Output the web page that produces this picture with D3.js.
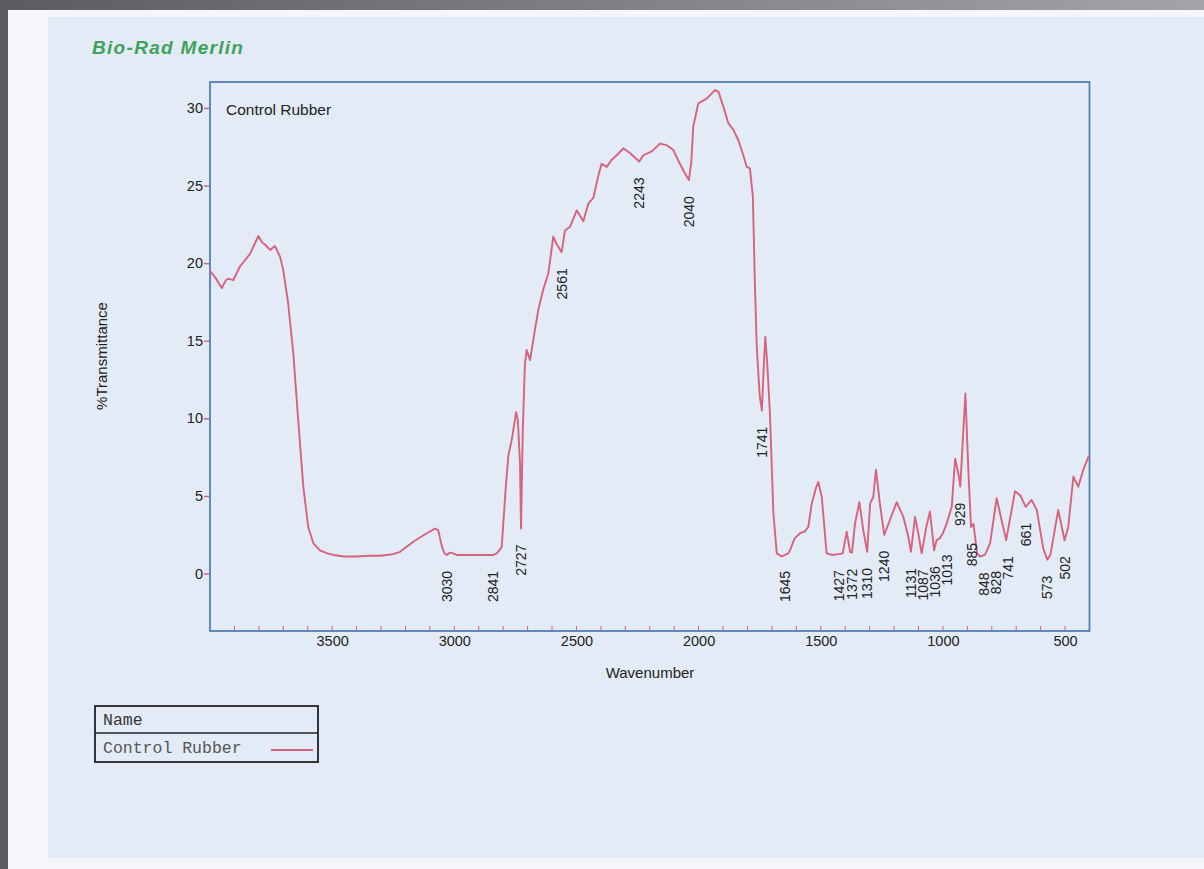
<!DOCTYPE html>
<html>
<head>
<meta charset="utf-8">
<script src="https://cdn.jsdelivr.net/npm/d3@7"></script>
<style>
html,body{margin:0;padding:0;background:#7a7a7e;}
svg{display:block;}
</style>
</head>
<body>
<svg id="chart" width="1204" height="869"></svg>
<script>
// ---- data ----
const title = "Bio-Rad Merlin";
const seriesName = "Control Rubber";
const xLabel = "Wavenumber";
const yLabel = "%Transmittance";
const xTicks = [3500, 3000, 2500, 2000, 1500, 1000, 500];
const yTicks = [0, 5, 10, 15, 20, 25, 30];
const wavenumbers = [4000,3975,3952,3935,3925,3905,3877,3836,3802,3785,3775,3754,3734,3713,3700,3680,3659,3639,3618,3598,3577,3550,3520,3495,3450,3400,3350,3300,3250,3222,3168,3113,3079,3066,3050,3040,3030,3018,3005,2990,2950,2900,2860,2841,2826,2806,2792,2779,2765,2747,2740,2731,2727,2720,2711,2704,2690,2670,2656,2636,2615,2595,2580,2561,2547,2526,2499,2472,2451,2431,2411,2397,2376,2356,2335,2308,2281,2243,2226,2192,2158,2131,2104,2083,2060,2040,2030,2022,2001,1967,1933,1919,1899,1878,1858,1837,1817,1803,1790,1778,1770,1762,1750,1741,1733,1727,1719,1708,1694,1680,1660,1645,1633,1626,1607,1585,1566,1551,1537,1520,1510,1496,1476,1455,1427,1410,1394,1380,1372,1360,1342,1326,1310,1298,1285,1274,1258,1240,1217,1189,1162,1142,1131,1114,1101,1087,1068,1053,1036,1026,1013,1000,985,964,950,937,929,908,896,885,875,860,848,828,807,780,760,741,705,684,661,637,616,589,573,560,528,502,487,466,446,425,405,400];
const transmittance = [19.5,19.0,18.4,18.9,19.0,18.9,19.8,20.6,21.75,21.3,21.2,20.85,21.1,20.4,19.55,17.4,14.2,9.9,5.6,3.0,1.95,1.5,1.3,1.2,1.1,1.1,1.15,1.15,1.25,1.4,2.05,2.6,2.9,2.8,1.7,1.3,1.2,1.35,1.3,1.2,1.2,1.2,1.2,1.2,1.3,1.7,4.95,7.6,8.6,10.4,9.9,7.1,2.9,9.0,13.5,14.4,13.75,15.7,17.0,18.3,19.35,21.7,21.2,20.7,22.1,22.35,23.4,22.7,23.85,24.2,25.6,26.4,26.2,26.65,26.95,27.4,27.1,26.55,26.95,27.2,27.7,27.6,27.3,26.6,25.9,25.35,26.5,28.8,30.3,30.6,31.15,31.05,30.1,29.0,28.6,27.9,26.95,26.2,26.1,24.3,18.9,14.6,11.5,10.5,13.5,15.25,13.5,10.3,3.9,1.3,1.1,1.2,1.3,1.5,2.27,2.6,2.7,3.0,4.5,5.5,5.9,4.95,1.3,1.2,1.25,1.3,2.7,1.4,1.35,3.2,4.6,2.8,1.4,4.5,4.95,6.7,4.5,2.5,3.45,4.6,3.65,2.4,1.4,3.65,2.6,1.3,3.0,4.0,1.5,2.15,2.27,2.6,3.2,4.3,7.4,6.45,5.6,11.6,6.7,3.0,3.2,1.3,1.1,1.2,1.95,4.85,3.45,2.15,5.3,5.05,4.3,4.75,4.1,1.6,0.9,1.2,4.1,2.15,3.0,6.25,5.6,6.7,7.5,7.6];
const peakLabels = [3030,2841,2727,2561,2243,2040,1741,1645,1427,1372,1310,1240,1131,1087,1036,1013,929,885,848,828,741,661,573,502];

// ---- layout ----
const svg = d3.select("#chart");
const W = 1204, H = 869;
const plot = {left: 210, right: 1089.5, top: 82, bottom: 631};
const curveColor = "#d8627c";
const frameColor = "#4b78b2";
const textColor = "#222";
const sans = "Liberation Sans, Arial, sans-serif";
const mono = "Liberation Mono, Courier New, monospace";

// photo background
const defs = svg.append("defs");
const lg = defs.append("linearGradient").attr("id","edge").attr("x1","0").attr("x2","1").attr("y1","0").attr("y2","0");
lg.append("stop").attr("offset","0%").attr("stop-color","#5c5c60");
lg.append("stop").attr("offset","100%").attr("stop-color","#a4a4a8");
svg.append("rect").attr("width",W).attr("height",H).attr("fill","url(#edge)");
svg.append("rect").attr("x",8).attr("y",10).attr("width",W-8).attr("height",H-10).attr("fill","#f4f6fa");
svg.append("rect").attr("x",48).attr("y",17).attr("width",W-48).attr("height",841).attr("fill","#e3ebf7");

// scales
const x = d3.scaleLinear().domain([4000, 400]).range([plot.left, plot.right]);
const y = d3.scaleLinear().domain([-3.7, 31.67]).range([plot.bottom, plot.top]);

// title
svg.append("text").attr("x", 92).attr("y", 54)
  .attr("font-family", sans).attr("font-size",19).attr("letter-spacing",1.3)
  .attr("font-weight","bold").attr("font-style","italic").attr("fill","#3ea35a")
  .text(title);

// x ticks (minor every 100 inside)
const minor = d3.range(500, 4000, 100);
svg.append("g").selectAll("line").data(minor).join("line")
  .attr("x1", d => x(d)).attr("x2", d => x(d))
  .attr("y1", plot.bottom).attr("y2", plot.bottom - 5)
  .attr("stroke", curveColor).attr("stroke-width", 1);

const xAxis = d3.axisBottom(x).tickValues(xTicks).tickSize(0).tickPadding(5).tickFormat(d3.format("d"));
const gx = svg.append("g").attr("transform", `translate(0,${plot.bottom})`).call(xAxis);
gx.select(".domain").remove();
gx.selectAll("text").attr("font-family", sans).attr("font-size",14.5).attr("fill",textColor);

const yAxis = d3.axisLeft(y).tickValues(yTicks).tickSize(6).tickPadding(1);
const gy = svg.append("g").attr("transform", `translate(${plot.left},0)`).call(yAxis);
gy.select(".domain").remove();
gy.selectAll("line").attr("stroke", curveColor).attr("stroke-width", 1.5);
gy.selectAll("text").attr("font-family", sans).attr("font-size",14.5).attr("fill",textColor);

// frame
svg.append("rect").attr("x", plot.left).attr("y", plot.top)
  .attr("width", plot.right - plot.left).attr("height", plot.bottom - plot.top)
  .attr("fill","none").attr("stroke", frameColor).attr("stroke-width", 1.7);

// curve
const pts = wavenumbers.map((w, i) => [w, transmittance[i]]);
svg.append("path").datum(pts)
  .attr("fill","none").attr("stroke", curveColor).attr("stroke-width", 1.9)
  .attr("stroke-linejoin","round")
  .attr("d", d3.line().x(d => x(d[0])).y(d => y(d[1])));

// series label inside plot
svg.append("text").attr("x", 226).attr("y", 115)
  .attr("font-family", sans).attr("font-size",15.5).attr("fill",textColor)
  .text(seriesName);

// peak labels with simple horizontal collision avoidance
const valueAt = w => transmittance[wavenumbers.indexOf(w)];
const lab = peakLabels.map(w => ({w, px: x(w), py: y(valueAt(w)) + 16}));
lab.sort((a, b) => a.px - b.px);
for (let i = 1; i < lab.length; i++) {
  if (lab[i].px < lab[i-1].px + 12) lab[i].px = lab[i-1].px + 12;
}
svg.append("g").selectAll("text").data(lab).join("text")
  .attr("transform", d => `translate(${d.px},${d.py}) rotate(-90)`)
  .attr("text-anchor","end").attr("dy","0.36em")
  .attr("font-family", sans).attr("font-size",14).attr("fill",textColor)
  .text(d => d.w);

// axis titles
svg.append("text").attr("x", 650).attr("y", 678)
  .attr("text-anchor","middle")
  .attr("font-family", sans).attr("font-size",15).attr("fill",textColor)
  .text(xLabel);
svg.append("text").attr("transform", `translate(107,356) rotate(-90)`)
  .attr("text-anchor","middle")
  .attr("font-family", sans).attr("font-size",15).attr("fill",textColor)
  .text(yLabel);

// legend table
const lgX = 95, lgY = 706, lgW = 223, rowH = 27;
const leg = svg.append("g");
leg.append("rect").attr("x", lgX).attr("y", lgY).attr("width", lgW).attr("height", rowH*2 + 2)
  .attr("fill","none").attr("stroke","#222").attr("stroke-width",1.8);
leg.append("line").attr("x1", lgX).attr("x2", lgX + lgW).attr("y1", lgY + rowH).attr("y2", lgY + rowH)
  .attr("stroke","#222").attr("stroke-width",1.6);
leg.append("text").attr("x", lgX + 8).attr("y", lgY + 19)
  .attr("font-family", mono).attr("font-size",16.5).attr("fill","#333")
  .text("Name");
leg.append("text").attr("x", lgX + 8).attr("y", lgY + rowH + 20)
  .attr("font-family", mono).attr("font-size",16.5).attr("fill","#555")
  .text(seriesName);
leg.append("line").attr("x1", lgX + 176).attr("x2", lgX + 218)
  .attr("y1", lgY + rowH + 17).attr("y2", lgY + rowH + 17)
  .attr("stroke", curveColor).attr("stroke-width", 1.8);
</script>
</body>
</html>
